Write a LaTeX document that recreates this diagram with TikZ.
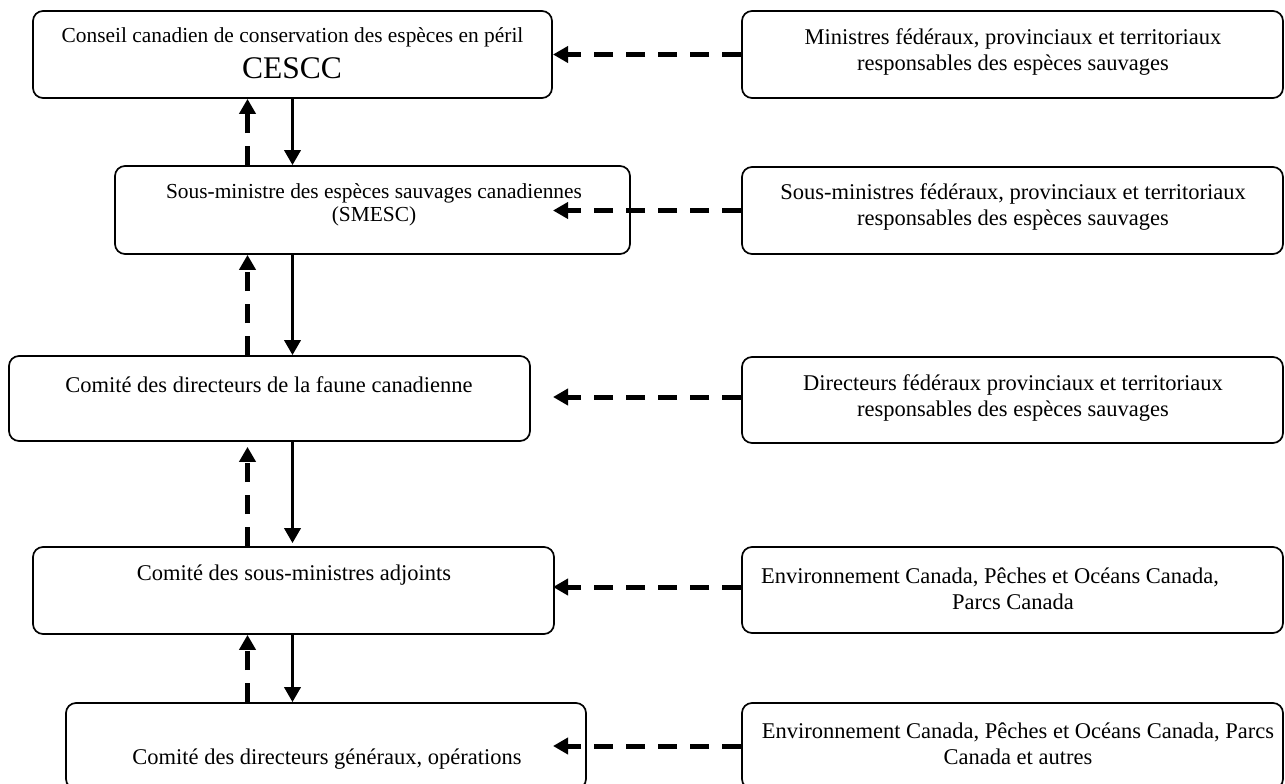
\documentclass[tikz,border=0pt]{standalone}
\usepackage{fontspec}
\setmainfont{Liberation Serif}
\usetikzlibrary{arrows.meta}
\begin{document}
\begin{tikzpicture}[x=1pt,y=-1pt,
  box/.style={draw, line width=1.7pt, rounded corners=10pt, inner sep=0pt, minimum height=87pt},
  txt/.style={inner sep=0pt, align=center, font=\fontsize{22.5}{26}\selectfont},
  dasharrow/.style={line width=5pt, dash pattern=on 19pt off 13pt, -{Triangle[length=15pt,width=16pt]}},
  solidarrow/.style={line width=3.5pt, -{Triangle[length=15pt,width=16pt]}}]
\useasboundingbox (0,0) rectangle (1285,784);
\clip (0,0) rectangle (1285,784);
% left boxes
\node[box, minimum width=519pt] (b1) at (292.5,54.5) {};
\node[box, minimum width=515pt, minimum height=88pt] (b2) at (372.5,210) {};
\node[box, minimum width=521pt, minimum height=85pt] (b3) at (269.5,398.5) {};
\node[box, minimum width=521pt] (b4) at (293.5,590.5) {};
\node[box, minimum width=520pt, minimum height=86pt] (b5) at (326,746) {};
% right boxes
\node[box, minimum width=541pt] (r1) at (1012.5,54.5) {};
\node[box, minimum width=541pt] (r2) at (1012.5,210.5) {};
\node[box, minimum width=541pt, minimum height=86pt] (r3) at (1012.5,400) {};
\node[box, minimum width=541pt, minimum height=86pt] (r4) at (1012.5,590) {};
\node[box, minimum width=541pt, minimum height=86pt] (r5) at (1012.5,746) {};
% texts
\node[txt, font=\fontsize{21.4}{25}\selectfont] (t1a) at (292.5,37) {Conseil canadien de conservation des espèces en péril};
\node[txt, font=\fontsize{31.5}{34}\selectfont] (t1b) at (292,68) {CESCC};
\node[txt, font=\fontsize{21.4}{23}\selectfont] (t2) at (374,205) {Sous-ministre des espèces sauvages canadiennes\\(SMESC)};
\node[txt] (t3) at (269,385) {Comité des directeurs de la faune canadienne};
\node[txt] (t4) at (294,575) {Comité des sous-ministres adjoints};
\node[txt] (t5) at (327,759) {Comité des directeurs généraux, opérations};
\node[txt] (tr1) at (1013,52) {Ministres fédéraux, provinciaux et territoriaux\\responsables des espèces sauvages};
\node[txt] (tr2) at (1013,207) {Sous-ministres fédéraux, provinciaux et territoriaux\\responsables des espèces sauvages};
\node[txt] (tr3) at (1013,398) {Directeurs fédéraux provinciaux et territoriaux\\responsables des espèces sauvages};
\node[txt] (tr4) at (1013,589) {Environnement Canada, Pêches et Océans Canada,\hspace*{46pt}\\Parcs Canada};
\node[txt] (tr5) at (1018,744) {Environnement Canada, Pêches et Océans Canada, Parcs\\Canada et autres};
% connector columns
\coordinate (tip) at (553,0);
\coordinate (up) at (247.5,0);
\coordinate (dn) at (292.5,0);
% horizontal dashed arrows
\draw[dasharrow] (r1.west) -- (r1.west -| tip);
\draw[dasharrow] (r2.west) -- (r2.west -| tip);
\draw[dasharrow] ([yshift=3pt]r3.west) -- ([yshift=3pt]r3.west -| tip);
\draw[dasharrow] ([yshift=3pt]r4.west) -- ([yshift=3pt]r4.west -| tip);
\draw[dasharrow] (r5.west) -- (r5.west -| tip);
% vertical arrows
\draw[dasharrow] (b2.north -| up) -- (b1.south -| up);
\draw[solidarrow] (b1.south -| dn) -- (b2.north -| dn);
\draw[dasharrow] (b3.north -| up) -- (b2.south -| up);
\draw[solidarrow] (b2.south -| dn) -- (b3.north -| dn);
\draw[dasharrow] (b4.north -| up) -- ([yshift=-5pt]b3.south -| up);
\draw[solidarrow] (b3.south -| dn) -- ([yshift=3pt]b4.north -| dn);
\draw[dasharrow] (b5.north -| up) -- (b4.south -| up);
\draw[solidarrow] (b4.south -| dn) -- (b5.north -| dn);
\end{tikzpicture}
\end{document}
